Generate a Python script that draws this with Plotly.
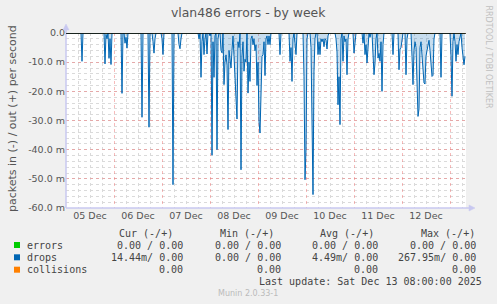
import plotly.graph_objects as go
import pandas as pd

# ---------------- data ----------------
title = "vlan486 errors - by week"
start = pd.Timestamp("2025-12-05 00:00")
end = pd.Timestamp("2025-12-13 08:00")
n_slots = 400  # 30-minute consolidated samples

# drops (in, drawn negative), milli-packets per second; slots not listed are 0
drop_slots = [16, 39, 40, 41, 43, 44, 45, 56, 59, 60, 61, 76, 83, 87, 88, 89, 96, 97, 107,
              113, 114, 115, 133, 135, 136, 138, 139, 141, 144, 146, 147, 148, 149, 151, 152,
              155, 156, 158, 159, 160, 161, 162, 163, 164, 165, 166, 167, 168, 169, 170, 171,
              172, 173, 175, 176, 177, 178, 179, 180, 182, 183, 184, 185, 186, 187, 188, 189,
              190, 191, 192, 193, 194, 195, 196, 197, 198, 199, 200, 201, 202, 203, 204, 214,
              224, 225, 226, 227, 229, 230, 238, 239, 240, 241, 245, 246, 247, 248, 249, 252,
              253, 254, 255, 256, 257, 258, 259, 260, 261, 262, 270, 271, 272, 273, 274, 275,
              277, 278, 279, 280, 281, 282, 288, 289, 297, 299, 300, 301, 302, 304, 307, 308,
              309, 310, 312, 313, 314, 315, 316, 317, 327, 333, 334, 335, 336, 340, 341, 346,
              347, 348, 349, 350, 351, 352, 353, 354, 355, 356, 357, 358, 359, 360, 361, 362,
              363, 364, 365, 366, 367, 368, 375, 385, 386, 387, 389, 390, 391, 392, 393, 394,
              396, 397, 398, 399]
drop_in_m = [-9.7, -10.6, -0.5, -2, -8.7, -2, -10.8, -20.7, -3.5, -1.5, -5.2, -28.9, -32.3, -3, -6.9, -2, -2, -7.4, -52,
             -4, -5.4, -2, -2, -15.2, -3, -7.4, -2, -7.2, -1, -41.9, -3, -15.2, -1, -40, -2,
             -6, -6.8, -17.7, -10, -7.5, -11, -33.1, -6, -9, -12, -6, -1, -8, -15, -21.1, -29.5,
             -3, -5, -46.9, -8, -3, -13.1, -9, -10, -20.6, -10, -16.6, -2, -1, -4, -2, -6.1,
             -4, -18, -10, -30.3, -34.3, -20, -8, -7.4, -3, -14.6, -2, -1, -4, -1, -4, -7.4,
             -9.7, -5, -16.6, -2, -3, -7.4, -15, -50.3, -40, -2, -5, -30, -55.4, -13.1, -2, -7.4,
             -3, -7.4, -2, -3, -2, -4.7, -2, -2.5, -5.5, -1, -2, -6.5, -24.6, -15, -31.4, -2,
             -9.7, -1, -3, -2, -14.3, -2, -6.9, -2.5, -3.5, -7.4, -4, -10.3, -3, -1.5, -8, -14.3,
             -10.3, -2, -8.6, -7, -9.7, -3, -20, -4, -7.4, -12.6, -5.5, -5, -1, -14.3, -2, -8,
             -17.7, -6, -3, -5, -20, -28.6, -26, -5, -3, -8, -14, -17.1, -17.5, -8, -6, -4,
             -2.5, -6, -10, -14.9, -14.5, -2, -15.2, -8, -21.7, -3, -3, -9.7, -4, -7.4, -3, -0.8,
             -5, -7.4, -10.9, -8]

y_tick_vals = [-60, -50, -40, -30, -20, -10, 0]
y_tick_text = ["-60.0 m", "-50.0 m", "-40.0 m", "-30.0 m", "-20.0 m", "-10.0 m", "0.0"]

legend_names = ["errors", "drops", "collisions"]
legend_colors = ["#00cc00", "#0066b3", "#ff8000"]
col_headers = ["Cur (-/+)", "Min (-/+)", "Avg (-/+)", "Max (-/+)"]
cur_vals = ["0.00 / 0.00", "14.44m/ 0.00", "0.00"]
min_vals = ["0.00 / 0.00", "0.00 / 0.00", "0.00"]
avg_vals = ["0.00 / 0.00", "4.49m/ 0.00", "0.00"]
max_vals = ["0.00 / 0.00", "267.95m/ 0.00", "0.00"]
last_update = "Last update: Sat Dec 13 08:00:00 2025"
footer = "Munin 2.0.33-1"
side_text = "RRDTOOL / TOBI OETIKER"

# ---------------- build series ----------------
times = pd.date_range(start, periods=n_slots, freq="30min")
drops = [0.0] * n_slots
for s, v in zip(drop_slots, drop_in_m):
    drops[s] = v
zeros = [0.0] * n_slots

# ---------------- layout helpers ----------------
W, H = 497, 304
L, R, T, B = 66, 466, 33, 208


def px(x):
    return (x - L) / (R - L)


def py(y):
    return (B - y) / (B - T)


GRAY = "#555555"
SANS = "DejaVu Sans"
MONO = "DejaVu Sans Mono"
MAJOR = "rgba(240,120,120,0.5)"
MINOR = "#dadada"

fig = go.Figure()
fig.add_trace(go.Scatter(x=times, y=zeros, mode="lines",
                         line=dict(color=legend_colors[0], width=1), hoverinfo="skip"))
fig.add_trace(go.Scatter(x=times, y=zeros, mode="lines",
                         line=dict(color=legend_colors[2], width=1), hoverinfo="skip"))
fig.add_trace(go.Scatter(x=times, y=drops, mode="lines", fill="tozeroy",
                         fillcolor="rgba(0,102,179,0.22)",
                         line=dict(color="#0066b3", width=1, shape="linear")))

fig.update_layout(
    width=W, height=H,
    margin=dict(l=L, r=W - R, t=T, b=H - B, pad=0),
    paper_bgcolor="#f0f0f0", plot_bgcolor="#ffffff",
    showlegend=False,
    font=dict(family=SANS, size=9.5, color=GRAY),
)
fig.update_xaxes(
    type="date", range=[start, end],
    tick0=start, dtick=86400000, ticklabelmode="period", tickformat="%d %b",
    showgrid=True, gridcolor=MAJOR, griddash="dot", gridwidth=1,
    minor=dict(dtick=6 * 3600000, showgrid=True, gridcolor=MINOR, griddash="dot"),
    ticks="", showline=False, zeroline=False,
    tickfont=dict(family=SANS, size=9.5, color=GRAY),
)
fig.update_yaxes(
    range=[-60, 0], tickvals=y_tick_vals, ticktext=y_tick_text,
    showgrid=True, gridcolor=MAJOR, griddash="dot", gridwidth=1,
    minor=dict(dtick=2, showgrid=True, gridcolor=MINOR, griddash="dot"),
    ticks="", showline=False, zeroline=False,
    tickfont=dict(family=SANS, size=9.5, color=GRAY),
)

shapes = []
axis_col = "#c8c8f0"
# axes with arrows
shapes.append(dict(type="line", xref="paper", yref="paper", x0=px(L), x1=px(471), y0=py(B), y1=py(B),
                   line=dict(color=axis_col, width=1.5)))
shapes.append(dict(type="path", xref="paper", yref="paper",
                   path=f"M {px(469)} {py(205)} L {px(475)} {py(B)} L {px(469)} {py(211)} Z",
                   fillcolor=axis_col, line=dict(color=axis_col, width=0.5)))
shapes.append(dict(type="line", xref="paper", yref="paper", x0=px(L), x1=px(L), y0=py(B), y1=py(28),
                   line=dict(color=axis_col, width=1.5)))
shapes.append(dict(type="path", xref="paper", yref="paper",
                   path=f"M {px(63)} {py(30)} L {px(L)} {py(24)} L {px(69)} {py(30)} Z",
                   fillcolor=axis_col, line=dict(color=axis_col, width=0.5)))
# zero rule
shapes.append(dict(type="line", xref="paper", yref="y", x0=0, x1=1, y0=0, y1=0,
                   line=dict(color="#000000", width=1.5)))
# legend swatches
row_y = [245, 257.3, 269.7]
for c, ry in zip(legend_colors, row_y):
    shapes.append(dict(type="rect", xref="paper", yref="paper", x0=px(14), x1=px(20),
                       y0=py(ry + 3), y1=py(ry - 3), fillcolor=c, line=dict(width=0)))

ann = []


def text(s, x, y, xa="left", size=10, fam=MONO, color="#444444", angle=0):
    ann.append(dict(text=s, x=px(x), y=py(y), xref="paper", yref="paper", xanchor=xa,
                    yanchor="middle", showarrow=False, textangle=angle, borderpad=0,
                    font=dict(family=fam, size=size, color=color)))


text(title, 248, 13, xa="center", size=12.4, fam=SANS, color=GRAY)
text("packets in (-) / out (+) per second", 12, 119, xa="center", size=11, fam=SANS, color=GRAY, angle=-90)
text(side_text, 488.5, 57, xa="center", size=8, fam=SANS, color="#c0c0c0", angle=90)

hdr_right = [174, 275, 375, 476]
val_right = [184, 282.3, 379.3, 477.3]
for h, xr in zip(col_headers, hdr_right):
    text(h, xr, 233.5, xa="right")
for name, ry, cv, mv, av, xv in zip(legend_names, row_y, cur_vals, min_vals, avg_vals, max_vals):
    text(name, 26, ry)
    for v, xr in zip([cv, mv, av, xv], val_right):
        text(v, xr, ry, xa="right")
text(last_update, 483.3, 281.7, xa="right")
text(footer, 248, 293.3, xa="center", size=8, fam=SANS, color="#bbbbbb")

fig.update_layout(shapes=shapes, annotations=ann)
fig.write_html("out.html")
